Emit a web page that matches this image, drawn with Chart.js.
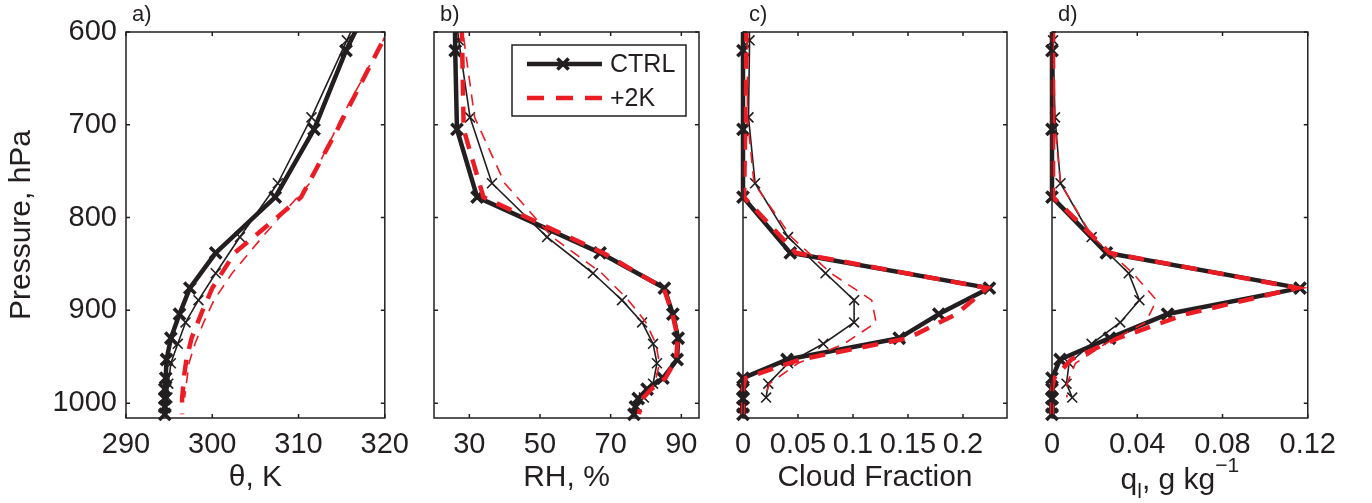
<!DOCTYPE html>
<html><head><meta charset="utf-8">
<script src="https://cdn.jsdelivr.net/npm/chart.js@4/dist/chart.umd.min.js"></script>
<style>
html,body{margin:0;padding:0;background:#fff;width:1372px;height:503px;overflow:hidden;position:relative;}
canvas{position:absolute;top:0;}
</style></head><body>
<canvas id="ca" width="419" height="503" style="left:0px"></canvas>
<canvas id="cb" width="325" height="503" style="left:404px"></canvas>
<canvas id="cc" width="324" height="503" style="left:713px"></canvas>
<canvas id="cd" width="324" height="503" style="left:1022px"></canvas>
<script>
// Pressure levels (hPa) of the two model configurations
const pThick = [535, 620, 705, 778, 838, 876, 904, 930, 953, 973, 985, 995, 1004, 1012];
const pThin  = [525, 609, 692, 763, 821, 860, 889, 913, 936, 957, 979, 994];
const pressureTicks = [600, 700, 800, 900, 1000];

// a) potential temperature, K
const thetaCtrl     = [320.0, 315.5, 311.8, 307.3, 300.4, 297.4, 296.2, 295.2, 294.7, 294.6, 294.5, 294.5, 294.5, 294.5];
const thetaCtrlThin = [319.8, 315.6, 311.5, 307.6, 303.2, 300.4, 298.4, 296.9, 296.0, 295.2, 294.9, 294.8];
const theta2K       = [323.9, 319.2, 314.5, 310.3, 302.6, 300.0, 298.7, 297.6, 297.0, 296.7, 296.6, 296.5, 296.5, 296.5];
const theta2KThin   = [324.0, 319.8, 315.0, 311.3, 305.8, 302.3, 300.2, 299.0, 298.0, 297.3, 297.0, 296.8];
const thetaTicks = [290, 300, 310, 320];

// b) relative humidity, %
const rhCtrl     = [25.8, 26.0, 26.5, 32.2, 67.0, 85.2, 87.6, 89.1, 88.8, 84.8, 80.3, 77.8, 77.0, 76.6];
const rhCtrlThin = [24.5, 27.0, 30.2, 36.4, 52.0, 65.0, 73.2, 78.9, 82.0, 83.1, 82.0, 79.4];
const rh2K       = [27.5, 28.0, 28.4, 34.0, 67.8, 85.0, 87.5, 89.0, 88.5, 85.5, 81.5, 79.0, 78.3, 78.0];
const rh2KThin   = [26.0, 28.5, 31.5, 40.0, 53.5, 67.5, 75.0, 80.0, 82.8, 83.8, 82.5, 79.5];
const rhTicks = [30, 50, 70, 90];

// c) cloud fraction
const cfCtrl     = [0, 0, 0, 0, 0.043, 0.224, 0.178, 0.142, 0.040, 0, 0, 0, 0, 0];
const cfCtrlThin = [0.004, 0.006, 0.005, 0.011, 0.041, 0.075, 0.101, 0.101, 0.073, 0.041, 0.023, 0.021];
const cf2K       = [0.003, 0.003, 0.002, 0.001, 0.048, 0.222, 0.194, 0.150, 0.052, 0.002, 0, 0, 0, 0];
const cf2KThin   = [0.004, 0.004, 0.004, 0.010, 0.044, 0.080, 0.117, 0.121, 0.092, 0.050, 0.024, 0.020];
const cfTicks = [0, 0.05, 0.1, 0.15, 0.2];

// d) liquid water, g/kg
const qlCtrl     = [0, 0, 0, 0, 0.0255, 0.1164, 0.0542, 0.027, 0.0038, 0, 0, 0, 0, 0];
const qlCtrlThin = [0, 0.0005, 0.0014, 0.004, 0.0186, 0.036, 0.041, 0.032, 0.0186, 0.008, 0.0068, 0.0095];
const ql2K       = [0.0005, 0.0005, 0.0005, 0.0005, 0.027, 0.115, 0.063, 0.031, 0.009, 0.001, 0, 0, 0, 0];
const ql2KThin   = [0.0005, 0.0005, 0.001, 0.004, 0.019, 0.038, 0.049, 0.044, 0.025, 0.011, 0.007, 0.007];
const qlTicks = [0, 0.04, 0.08, 0.12];

const FONT = "'Liberation Sans', Arial, Helvetica, sans-serif";
const INK = '#231f20';
const RED = '#ec1c24';

function ds(label, vals, lev, thick, red) {
  return {
    label,
    data: vals.map((v, i) => ({x: v, y: lev[i]})),
    borderColor: red ? RED : INK,
    borderWidth: thick ? 4.5 : 1.6,
    borderDash: red ? (thick ? [16, 11] : [11, 8]) : [],
    borderCapStyle: 'butt',
    borderJoinStyle: red ? 'miter' : 'round',
    pointStyle: 'crossRot',
    pointRadius: red ? 0 : (thick ? 8 : 7),
    pointHoverRadius: 0,
    pointBorderWidth: thick ? 3.6 : 1.6,
    pointBorderColor: INK,
    pointBackgroundColor: INK,
    tension: 0, fill: false, showLine: true,
    clip: {left: 12, top: 0, right: 0, bottom: 4}
  };
}
function datasets(c, ct, w, wt) {
  return [
    ds('+2K', w, pThick, true, true),
    ds('+2K thin', wt, pThin, false, true),
    ds('CTRL', c, pThick, true, false),
    ds('CTRL thin', ct, pThin, false, false)
  ];
}

const framePlugin = {
  id: 'frame',
  afterDraw(chart, args, opts) {
    const {ctx, chartArea: a, scales: {x, y}} = chart;
    ctx.save();
    ctx.strokeStyle = INK; ctx.lineWidth = 1.5;
    ctx.strokeRect(a.left, a.top, a.right - a.left, a.bottom - a.top);
    const tl = 4;
    ctx.beginPath();
    opts.xt.forEach(v => {
      const px = x.getPixelForValue(v);
      ctx.moveTo(px, a.bottom); ctx.lineTo(px, a.bottom - tl);
      ctx.moveTo(px, a.top); ctx.lineTo(px, a.top + tl);
    });
    pressureTicks.forEach(v => {
      const py = y.getPixelForValue(v);
      ctx.moveTo(a.left, py); ctx.lineTo(a.left + tl, py);
      ctx.moveTo(a.right, py); ctx.lineTo(a.right - tl, py);
    });
    ctx.stroke();
    ctx.fillStyle = INK;
    ctx.font = '22px ' + FONT;
    ctx.textBaseline = 'alphabetic'; ctx.textAlign = 'left';
    ctx.fillText(opts.letter, a.left + 6, 21);
    ctx.restore();
  }
};

const legendPlugin = {
  id: 'boxLegend',
  afterDraw(chart, args, opts) {
    if (!opts.show) return;
    const {ctx, chartArea: a} = chart;
    const L = a.left;
    ctx.save();
    ctx.fillStyle = '#fff';
    ctx.fillRect(L + 78, 45, 174, 71);
    ctx.strokeStyle = INK; ctx.lineWidth = 1.5;
    ctx.strokeRect(L + 78, 45, 174, 71);
    // CTRL
    ctx.beginPath(); ctx.lineWidth = 4.5; ctx.lineCap = 'butt';
    ctx.moveTo(L + 93, 64); ctx.lineTo(L + 168, 64); ctx.stroke();
    ctx.beginPath(); ctx.lineWidth = 3.6;
    const r = 5.6, cx = L + 129;
    ctx.moveTo(cx - r, 64 - r); ctx.lineTo(cx + r, 64 + r);
    ctx.moveTo(cx - r, 64 + r); ctx.lineTo(cx + r, 64 - r);
    ctx.stroke();
    // +2K
    ctx.beginPath(); ctx.strokeStyle = RED; ctx.lineWidth = 4.5;
    ctx.setLineDash([17, 12]);
    ctx.moveTo(L + 93, 98); ctx.lineTo(L + 168, 98); ctx.stroke();
    ctx.setLineDash([]);
    ctx.fillStyle = INK; ctx.font = '25px ' + FONT;
    ctx.textBaseline = 'middle'; ctx.textAlign = 'left';
    ctx.fillText('CTRL', L + 176, 65);
    ctx.fillText('+2K', L + 176, 99);
    ctx.restore();
  }
};

const qlTitlePlugin = {
  id: 'qlTitle',
  afterDraw(chart, args, opts) {
    if (!opts.show) return;
    const {ctx, chartArea: a} = chart;
    ctx.save();
    ctx.fillStyle = INK; ctx.textBaseline = 'alphabetic'; ctx.textAlign = 'left';
    const big = '30px ' + FONT, small = '21px ' + FONT;
    const parts = [['q', big, 0], ['l', small, 9], [', g kg', big, 0], ['\u22121', small, -17]];
    let total = 0;
    parts.forEach(p => { ctx.font = p[1]; total += ctx.measureText(p[0]).width; });
    let x = (a.left + a.right) / 2 - total / 2;
    const base = 489;
    parts.forEach(p => { ctx.font = p[1]; ctx.fillText(p[0], x, base + p[2]); x += ctx.measureText(p[0]).width; });
    ctx.restore();
  }
};

function xScale(min, max, ticks, title) {
  return {
    type: 'linear', position: 'bottom', min, max,
    afterBuildTicks: s => { s.ticks = ticks.map(v => ({value: v})); },
    afterFit: s => { s.height = 85; },
    grid: {display: false, drawTicks: false}, border: {display: false},
    ticks: {autoSkip: false, maxRotation: 0, minRotation: 0, padding: 10, color: INK,
            font: {family: FONT, size: 29}, callback: v => String(v)},
    title: {display: !!title, text: title, color: INK, font: {family: FONT, size: 30}, padding: {top: 0, bottom: 7}}
  };
}
function yScale(first) {
  return {
    type: 'linear', position: 'left', reverse: true, min: 600, max: 1016,
    afterBuildTicks: s => { s.ticks = pressureTicks.map(v => ({value: v})); },
    afterFit: s => { s.width = first ? 126 : 0; },
    grid: {display: false, drawTicks: false}, border: {display: false},
    ticks: {display: first, padding: 9, color: INK, font: {family: FONT, size: 29}, callback: v => String(v)},
    title: {display: first, text: 'Pressure, hPa', color: INK, font: {family: FONT, size: 30}, padding: {top: 4, bottom: 0}}
  };
}

function makeChart(id, sets, xs, first, letter, xt, extra) {
  new Chart(document.getElementById(id), {
    type: 'line',
    data: {datasets: sets},
    options: {
      responsive: false, animation: false, devicePixelRatio: 1,
      events: [],
      layout: {padding: {left: first ? 0 : 30, right: 30, top: 32, bottom: 0}},
      scales: {x: xs, y: yScale(first)},
      plugins: {
        legend: {display: false}, tooltip: {enabled: false},
        frame: {letter, xt},
        boxLegend: {show: !!(extra && extra.legend)},
        qlTitle: {show: !!(extra && extra.ql)}
      }
    },
    plugins: [framePlugin, legendPlugin, qlTitlePlugin]
  });
}

makeChart('ca', datasets(thetaCtrl, thetaCtrlThin, theta2K, theta2KThin), xScale(290, 320, thetaTicks, '\u03b8, K'), true, 'a)', thetaTicks);
makeChart('cb', datasets(rhCtrl, rhCtrlThin, rh2K, rh2KThin), xScale(20, 95, rhTicks, 'RH, %'), false, 'b)', rhTicks, {legend: true});
makeChart('cc', datasets(cfCtrl, cfCtrlThin, cf2K, cf2KThin), xScale(0, 0.24, cfTicks, 'Cloud Fraction'), false, 'c)', cfTicks);
makeChart('cd', datasets(qlCtrl, qlCtrlThin, ql2K, ql2KThin), xScale(0, 0.12, qlTicks, ''), false, 'd)', qlTicks, {ql: true});
</script>
</body></html>
